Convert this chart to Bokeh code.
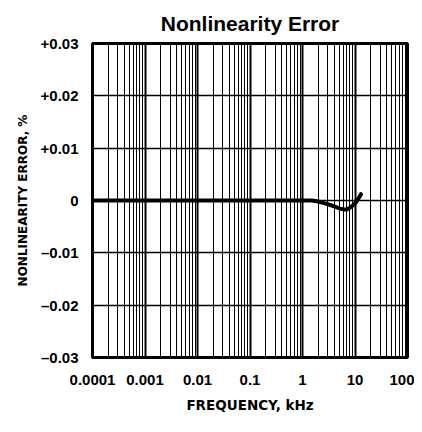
from bokeh.plotting import figure
from bokeh.models import FixedTicker, Grid, ColumnDataSource
from bokeh.embed import file_html
from bokeh.resources import INLINE

# Data
freq_khz = [0.0001, 0.001, 0.01, 0.1, 0.5, 1.0, 1.5, 2.0, 3.0, 4.0, 5.0, 6.0, 7.0, 8.0, 10.0, 12.0, 13.0]
error_pct = [0.0, 0.0, 0.0, 0.0, 0.0, 0.0, 0.0, -0.0002, -0.0007, -0.0011, -0.0015, -0.0017, -0.0017, -0.0014, -0.0006, 0.0006, 0.0012]

x_ticks = [0.0001, 0.001, 0.01, 0.1, 1, 10, 100]
x_tick_labels = ["0.0001", "0.001", "0.01", "0.1", "1", "10", "100"]
y_ticks = [-0.03, -0.02, -0.01, 0.0, 0.01, 0.02, 0.03]
y_tick_labels = ["\u20130.03", "\u20130.02", "\u20130.01", "0", "+0.01", "+0.02", "+0.03"]

title_text = "Nonlinearity Error"
x_label = "FREQUENCY, kHz"
y_label = "NONLINEARITY ERROR, %"

minor_x = [m * d for d in x_ticks[:-1] for m in range(2, 10)]

p = figure(width=414, height=424, x_axis_type="log",
           x_range=(x_ticks[0], x_ticks[-1]), y_range=(y_ticks[0], y_ticks[-1]),
           output_backend="svg", toolbar_location=None,
           min_border_left=92, min_border_right=7, min_border_top=43, min_border_bottom=67)

p.title.text = title_text
p.title.align = "center"
p.title.text_font = "Liberation Sans"
p.title.text_font_style = "bold"
p.title.text_font_size = "21px"
p.title.text_color = "black"
p.title.standoff = 18

p.outline_line_color = "black"
p.outline_line_width = 3
p.outline_line_alpha = 1

# axes
p.xaxis.ticker = FixedTicker(ticks=x_ticks)
p.xaxis.major_label_overrides = {t: l for t, l in zip(x_ticks, x_tick_labels)}
p.yaxis.ticker = FixedTicker(ticks=y_ticks)
p.yaxis.major_label_overrides = {t: l for t, l in zip(y_ticks, y_tick_labels)}
for ax in (p.xaxis, p.yaxis):
    ax.axis_line_color = None
    ax.major_tick_line_color = None
    ax.minor_tick_line_color = None
    ax.major_label_text_font = "Liberation Sans"
    ax.major_label_text_font_style = "bold"
    ax.major_label_text_font_size = "15px"
    ax.major_label_text_color = "black"
    ax.axis_label_text_font = "DejaVu Sans"
    ax.axis_label_text_font_style = "bold"
    ax.axis_label_text_color = "black"
p.xaxis.axis_label_text_font_size = "13.5px"
p.yaxis.axis_label_text_font_size = "12px"
p.xaxis.major_label_standoff = 11
p.yaxis.major_label_standoff = 8
p.xaxis.axis_label = x_label
p.yaxis.axis_label = y_label
p.xaxis.axis_label_standoff = 9
p.yaxis.axis_label_standoff = 8

# grids
p.xgrid.ticker = FixedTicker(ticks=minor_x)
p.xgrid.grid_line_color = "black"
p.xgrid.grid_line_width = 1
p.xgrid.grid_line_alpha = 1
p.add_layout(Grid(dimension=0, ticker=FixedTicker(ticks=x_ticks),
                  grid_line_color="black", grid_line_width=2))
p.ygrid.ticker = FixedTicker(ticks=y_ticks)
p.ygrid.grid_line_color = "black"
p.ygrid.grid_line_width = 1.5
p.ygrid.grid_line_alpha = 1

src = ColumnDataSource(data=dict(x=freq_khz, y=error_pct))
p.line("x", "y", source=src, line_color="black", line_width=4, line_join="round", line_cap="round")

open("out.html", "w").write(file_html(p, INLINE))
